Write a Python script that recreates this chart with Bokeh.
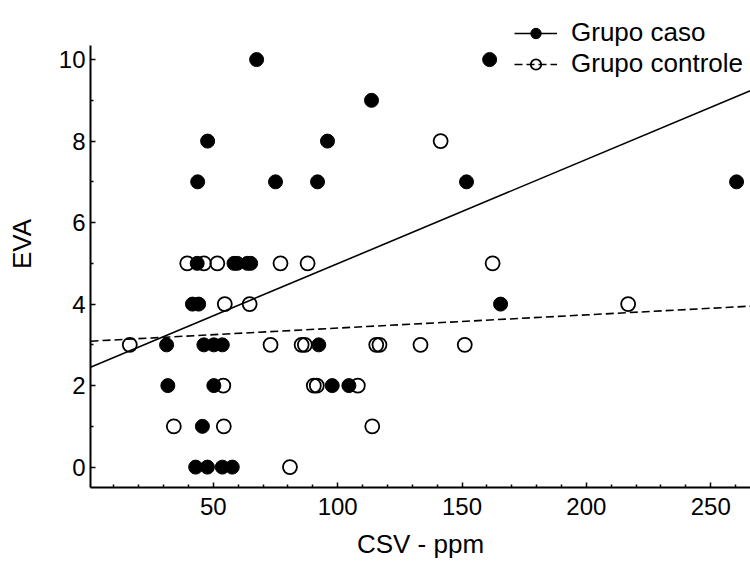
from bokeh.plotting import figure
from bokeh.models import Range1d, FixedTicker, Legend, LegendItem
from bokeh.embed import file_html
from bokeh.resources import INLINE

# ---- data ----
caso_x = [67.4, 161.1,
          113.6,
          47.7, 95.9,
          43.7, 75.0, 91.9, 151.8, 260.4,
          43.5, 58.3, 59.6, 63.7, 65.0,
          41.6, 44.1, 165.5,
          31.2, 46.2, 50.2, 53.6, 92.4,
          31.7, 50.2, 97.8, 104.5,
          45.6,
          42.9, 47.6, 53.6, 57.6]
caso_y = [10, 10,
          9,
          8, 8,
          7, 7, 7, 7, 7,
          5, 5, 5, 5, 5,
          4, 4, 4,
          3, 3, 3, 3, 3,
          2, 2, 2, 2,
          1,
          0, 0, 0, 0]

controle_x = [141.4,
              39.5, 46.2, 51.6, 77.0, 87.9, 162.3,
              54.6, 64.6, 216.8,
              16.4, 73.0, 85.5, 86.8, 115.5, 116.8, 133.3, 151.1,
              54.0, 90.4, 91.6, 108.1,
              34.1, 54.2, 113.9,
              80.8]
controle_y = [8,
              5, 5, 5, 5, 5, 5,
              4, 4, 4,
              3, 3, 3, 3, 3, 3, 3, 3,
              2, 2, 2, 2,
              1, 1, 1,
              0]

# regression coefficients (intercept, slope)
caso_fit = (2.435, 0.02558)
controle_fit = (3.088, 0.00324)

x_range = (0.6, 266.0)
y_range = (-0.5, 11.45)      # visible area (legend sits above the axis top)
y_axis_bounds = (-0.5, 10.35)

x_major = [50, 100, 150, 200, 250]
x_minor = [v for v in range(10, 270, 10) if v % 50 != 0]
y_major = [0, 2, 4, 6, 8, 10]
y_minor = [1, 3, 5, 7, 9]

x_label = "CSV - ppm"
y_label = "EVA"
legend_labels = ["Grupo caso", "Grupo controle"]

FONT = "Liberation Sans"

p = figure(width=750, height=569, output_backend="svg", toolbar_location=None,
           x_range=Range1d(*x_range), y_range=Range1d(*y_range),
           min_border_left=90, min_border_right=0, min_border_top=0,
           min_border_bottom=82)
p.outline_line_color = None
p.grid.visible = False
p.background_fill_color = "white"
p.border_fill_color = "white"

for ax in (p.xaxis[0], p.yaxis[0]):
    ax.axis_line_width = 2
    ax.axis_line_color = "black"
    ax.major_tick_in = 5
    ax.major_tick_out = 0
    ax.minor_tick_in = 3
    ax.minor_tick_out = 0
    ax.major_tick_line_width = 1.5
    ax.minor_tick_line_width = 1.5
    ax.major_label_text_font = FONT
    ax.major_label_text_font_size = "24px"
    ax.major_label_text_color = "black"
    ax.axis_label_text_font = FONT
    ax.axis_label_text_font_size = "26px"
    ax.axis_label_text_font_style = "normal"
    ax.axis_label_text_color = "black"

p.xaxis.ticker = FixedTicker(ticks=x_major, minor_ticks=x_minor)
p.yaxis.ticker = FixedTicker(ticks=y_major, minor_ticks=y_minor)
p.yaxis.bounds = y_axis_bounds
p.xaxis.axis_label = x_label
p.yaxis.axis_label = y_label
p.xaxis.major_label_standoff = 10
p.yaxis.major_label_standoff = 5
p.xaxis.axis_label_standoff = 11
p.yaxis.axis_label_standoff = 19

fx = list(x_range)
caso_line = p.line(fx, [caso_fit[0] + caso_fit[1] * v for v in fx],
                   line_color="black", line_width=1.6)
ctrl_line = p.line(fx, [controle_fit[0] + controle_fit[1] * v for v in fx],
                   line_color="black", line_width=1.6, line_dash="8 4")

ctrl_pts = p.scatter(controle_x, controle_y, marker="circle", size=14,
                     fill_color=None, line_color="black", line_width=1.8)
caso_pts = p.scatter(caso_x, caso_y, marker="circle", size=14,
                     fill_color="black", line_color="black", line_width=1)

legend = Legend(items=[LegendItem(label=legend_labels[0], renderers=[caso_line, caso_pts]),
                       LegendItem(label=legend_labels[1], renderers=[ctrl_line, ctrl_pts])],
                location=(424, 408), orientation="vertical",
                background_fill_alpha=0, border_line_color=None,
                padding=0, margin=0, spacing=0,
                glyph_width=43, glyph_height=26, label_height=26,
                label_standoff=14,
                label_text_font=FONT, label_text_font_size="26px",
                label_text_color="black")
p.add_layout(legend, "center")

open("out.html", "w").write(file_html(p, INLINE))
